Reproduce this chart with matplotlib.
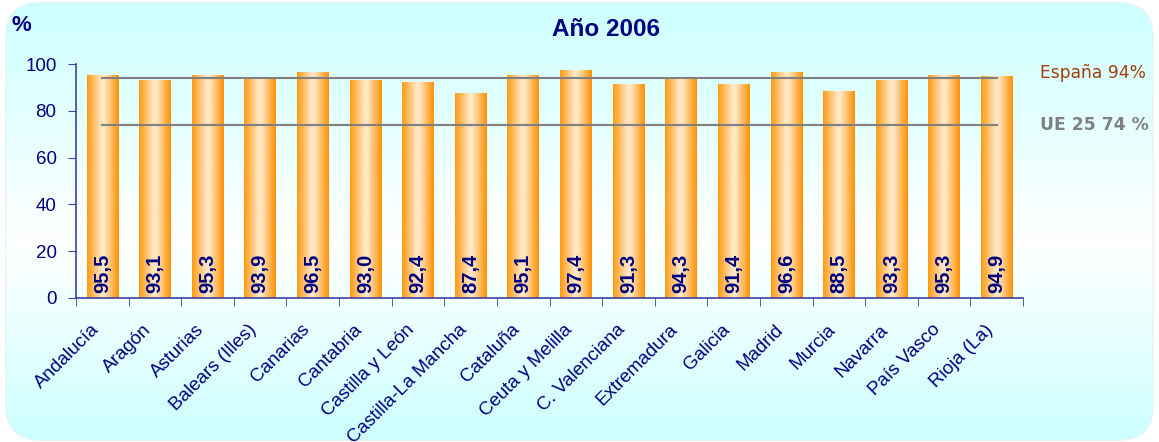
import numpy as np
import matplotlib
matplotlib.use("Agg")
import matplotlib.pyplot as plt
from matplotlib.colors import LinearSegmentedColormap
from matplotlib.patches import FancyBboxPatch

regions = ['Andalucía', 'Aragón', 'Asturias', 'Balears (Illes)', 'Canarias',
           'Cantabria', 'Castilla y León', 'Castilla-La Mancha', 'Cataluña',
           'Ceuta y Melilla', 'C. Valenciana', 'Extremadura', 'Galicia',
           'Madrid', 'Murcia', 'Navarra', 'País Vasco', 'Rioja (La)']
values = [95.5, 93.1, 95.3, 93.9, 96.5, 93.0, 92.4, 87.4, 95.1,
          97.4, 91.3, 94.3, 91.4, 96.6, 88.5, 93.3, 95.3, 94.9]
espana = 94
ue25 = 74

navy = '#000080'

fig = plt.figure(figsize=(11.59, 4.42), dpi=100)

# background gradient (cyan -> white -> cyan)
bg = fig.add_axes([0, 0, 1, 1], zorder=-10)
bg.set_axis_off()
bg.set_xlim(0, 1)
bg.set_ylim(0, 1)
bg_cmap = LinearSegmentedColormap.from_list(
    'bg', [(0, '#ccffff'), (0.35, '#f4ffff'), (0.45, '#ffffff'), (1.0, '#ccffff')])
grad = np.linspace(0, 1, 256).reshape(-1, 1)
img = bg.imshow(grad, aspect='auto', cmap=bg_cmap, extent=[0, 1, 0, 1],
                origin='lower')
frame = FancyBboxPatch((0.005, 0.004), 0.99, 0.99,
                       boxstyle='round,pad=0,rounding_size=0.03',
                       transform=bg.transAxes, facecolor='none',
                       edgecolor='#e6f4f4', lw=1.0, mutation_aspect=2.6)
bg.add_patch(frame)
img.set_clip_path(frame)

ax = fig.add_axes([0.0656, 0.3258, 0.8171, 0.5294])
ax.patch.set_alpha(0)

x = np.arange(len(regions))
bars = ax.bar(x, values, width=0.6, color='none', edgecolor='none', zorder=2)

bar_cmap = LinearSegmentedColormap.from_list(
    'bar', [(0, '#ff9a10'), (0.45, '#ffe6c4'), (0.55, '#ffe6c4'), (1.0, '#ff9000')])
hgrad = np.linspace(0, 1, 128).reshape(1, -1)
for b in bars:
    x0, w, h = b.get_x(), b.get_width(), b.get_height()
    im = ax.imshow(hgrad, aspect='auto', cmap=bar_cmap,
                   extent=[x0, x0 + w, 0, h], zorder=2)
    im.set_clip_path(b)

for xi, v in zip(x, values):
    ax.text(xi, 2.3, f'{v:.1f}'.replace('.', ','), rotation=90,
            ha='center', va='bottom', color=navy, fontsize=14.5,
            fontweight='bold', family='Liberation Sans', zorder=4)

ax.plot([x[0], x[-1]], [espana, espana], color='#808080', lw=1.5, zorder=3)
ax.plot([x[0], x[-1]], [ue25, ue25], color='#808080', lw=1.5, zorder=3)
ax.text(1.018, espana + 2, 'España 94%', transform=ax.get_yaxis_transform(),
        color='#a0400e', fontsize=12.3, va='center', ha='left')
ax.text(1.018, ue25, 'UE 25 74 %', transform=ax.get_yaxis_transform(),
        color='#808080', fontsize=12.3, fontweight='bold', va='center', ha='left')

ax.set_xlim(-0.5, len(regions) - 0.5)
ax.set_ylim(0, 100)
ax.set_yticks([0, 20, 40, 60, 80, 100])

# category labels, rotated, placed a bit left of the bar centre
ax.set_xticks(x)
ax.set_xticklabels([])
for xi, name in zip(x, regions):
    ax.annotate(name, xy=(xi, 0), xycoords=('data', 'axes fraction'),
                xytext=(-4.3, -21), textcoords='offset points',
                rotation=45, ha='right', va='center', rotation_mode='anchor',
                family='Liberation Sans', fontsize=13.5, color=navy,
                annotation_clip=False)

ax.set_xticks(np.arange(-0.5, len(regions)), minor=True)
ax.tick_params(axis='x', which='major', length=0)
ax.tick_params(axis='x', which='minor', length=6, color='#4040a0', direction='out')
ax.tick_params(axis='y', length=6, color='#4040a0', labelcolor=navy,
               labelsize=13.5, pad=8)
for lab in ax.get_yticklabels():
    lab.set_family('Liberation Sans')

for s in ['top', 'right']:
    ax.spines[s].set_visible(False)
for s in ['left', 'bottom']:
    ax.spines[s].set_color('#4040a0')
    ax.spines[s].set_linewidth(1.2)

fig.text(0.523, 0.934, 'Año 2006', ha='center', va='center', color=navy,
         fontsize=17.5, fontweight='bold', family='Liberation Sans')
fig.text(0.010, 0.942, '%', ha='left', va='center', color=navy,
         fontsize=16, fontweight='bold', family='Liberation Sans')

fig.savefig('out.png', dpi=100)
